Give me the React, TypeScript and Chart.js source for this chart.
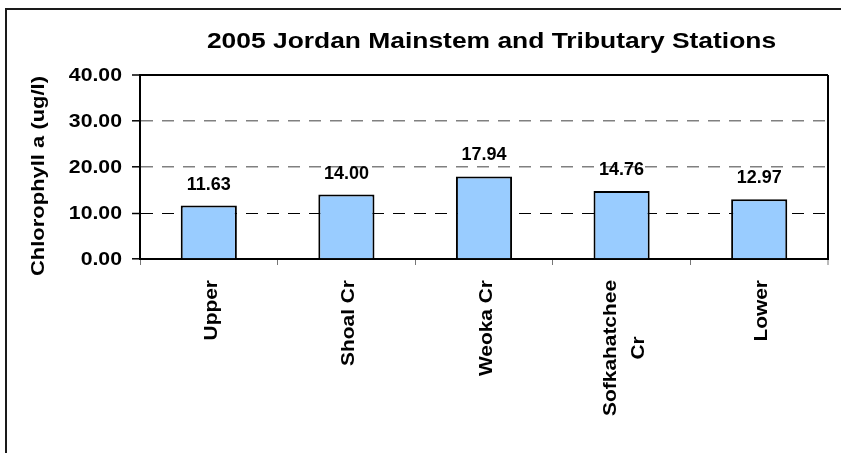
import { useEffect, useRef } from 'react';
import { Chart, registerables } from 'chart.js';

Chart.register(...registerables);

// Chart content
const chartTitle = '2005 Jordan Mainstem and Tributary Stations';
const yAxisTitle = 'Chlorophyll a (ug/l)';
const stations: (string | string[])[] = ['Upper', 'Shoal Cr', 'Weoka Cr', ['Sofkahatchee', 'Cr'], 'Lower'];
const chlorophyll = [11.63, 14.0, 17.94, 14.76, 12.97];
const yTickValues = [0, 10, 20, 30, 40];

const FONT = '"Liberation Sans", Arial, Helvetica, sans-serif';
const BAR_FILL = '#99CCFF';

// Draws the frame, title, axis text and value labels on top of the chart
const textLayer = {
  id: 'textLayer',
  afterDraw(chart: any) {
    const { ctx, chartArea } = chart;
    const xs = chart.scales.x;
    const ys = chart.scales.y;
    ctx.save();

    // outer frame
    ctx.strokeStyle = '#1a1a1a';
    ctx.lineWidth = 2;
    ctx.beginPath();
    ctx.moveTo(6, chart.height + 2);
    ctx.lineTo(6, 9);
    ctx.lineTo(chart.width + 2, 9);
    ctx.stroke();

    ctx.fillStyle = '#000';

    // title
    ctx.font = `bold 22px ${FONT}`;
    ctx.textAlign = 'center';
    ctx.textBaseline = 'alphabetic';
    ctx.save();
    ctx.translate((chartArea.left + chartArea.right) / 2 + 7.5, 48);
    ctx.scale(1.2, 1);
    ctx.fillText(chartTitle, 0, 0);
    ctx.restore();

    // y tick labels
    ctx.font = `bold 18px ${FONT}`;
    ctx.textAlign = 'right';
    ctx.textBaseline = 'middle';
    ys.ticks.forEach((t: any) => {
      const py = ys.getPixelForValue(t.value);
      ctx.save();
      ctx.translate(chartArea.left - 18, py + 1);
      ctx.scale(1.18, 1);
      ctx.fillText(Number(t.value).toFixed(2), 0, 0);
      ctx.restore();
    });

    // y axis title
    ctx.textAlign = 'center';
    ctx.textBaseline = 'alphabetic';
    ctx.save();
    ctx.translate(44, (chartArea.top + chartArea.bottom) / 2 + 9);
    ctx.rotate(-Math.PI / 2);
    ctx.scale(1.22, 1);
    ctx.fillText(yAxisTitle, 0, 0);
    ctx.restore();

    // category labels, rotated, top-aligned below the axis
    ctx.font = `bold 19px ${FONT}`;
    const along = 1.1;
    const lineGap = 28;
    const top = chartArea.bottom + 21;
    stations.forEach((lab, i) => {
      const lines = Array.isArray(lab) ? lab : [lab];
      const px = xs.getPixelForTick(i);
      const len = Math.max(...lines.map((l) => ctx.measureText(l).width)) * along;
      const cy = top + len / 2;
      lines.forEach((line, j) => {
        const bx = px + 8 + (j - (lines.length - 1) / 2) * lineGap;
        ctx.save();
        ctx.translate(bx, cy);
        ctx.rotate(-Math.PI / 2);
        ctx.scale(along, 1);
        ctx.textAlign = 'center';
        ctx.textBaseline = 'alphabetic';
        ctx.fillText(line, 0, 0);
        ctx.restore();
      });
    });

    // value labels above bars
    ctx.font = `bold 18px ${FONT}`;
    ctx.textAlign = 'center';
    ctx.textBaseline = 'alphabetic';
    const meta = chart.getDatasetMeta(0);
    meta.data.forEach((el: any, i: number) => {
      ctx.fillText(chlorophyll[i].toFixed(2), el.x, el.y - 16);
    });

    ctx.restore();
  },
};

export default function App() {
  const canvasRef = useRef<HTMLCanvasElement | null>(null);

  useEffect(() => {
    const canvas = canvasRef.current;
    if (!canvas) return;
    const yMin = yTickValues[0];
    const yMax = yTickValues[yTickValues.length - 1];
    const yStep = yTickValues[1] - yTickValues[0];

    const chart = new Chart(canvas, {
      type: 'bar',
      data: {
        labels: stations,
        datasets: [
          {
            data: chlorophyll,
            backgroundColor: BAR_FILL,
            borderColor: '#000',
            borderWidth: 2,
            barPercentage: 0.408,
            categoryPercentage: 1,
          },
        ],
      },
      options: {
        responsive: false,
        animation: false,
        events: [],
        layout: { padding: { left: 0, top: 75, right: 13, bottom: 0 } },
        plugins: {
          legend: { display: false },
          title: { display: false },
          tooltip: { enabled: false },
        },
        scales: {
          x: {
            ticks: { display: false },
            afterFit: (s: any) => {
              s.height = 194;
            },
            grid: {
              offset: true,
              color: (c: any) => (c.tick ? 'rgba(0,0,0,0)' : '#000'),
              lineWidth: (c: any) => (c.tick ? 1 : 2),
              tickColor: '#777',
              tickLength: 6,
              tickWidth: 1,
            },
            border: { display: true, color: '#000', width: 2, dash: [] },
          },
          y: {
            min: yMin,
            max: yMax,
            ticks: { display: false, stepSize: yStep },
            afterFit: (s: any) => {
              s.width = 140;
            },
            grid: {
              color: (c: any) => {
                const v = c.tick ? c.tick.value : null;
                if (v === yMin || v === null) return 'rgba(0,0,0,0)';
                if (v === yMax) return '#000';
                if (v === 10) return '#000';
                return '#808080';
              },
              lineWidth: (c: any) => {
                const v = c.tick ? c.tick.value : null;
                if (v === yMax) return 2;
                if (v === 10) return 1;
                return 1.6;
              },
              tickColor: '#000',
              tickLength: 8,
              tickWidth: 1.5,
            },
            border: {
              display: true,
              color: '#000',
              width: 2,
              dash: (c: any) =>
                c.tick && c.tick.value > yMin && c.tick.value < yMax ? [12, 9] : [],
            },
          },
        },
      },
      plugins: [textLayer],
    } as any);

    return () => chart.destroy();
  }, []);

  return (
    <div style={{ position: 'absolute', left: 0, top: 0, width: 841, height: 453, background: '#fff' }}>
      <canvas ref={canvasRef} width={841} height={453} />
    </div>
  );
}
